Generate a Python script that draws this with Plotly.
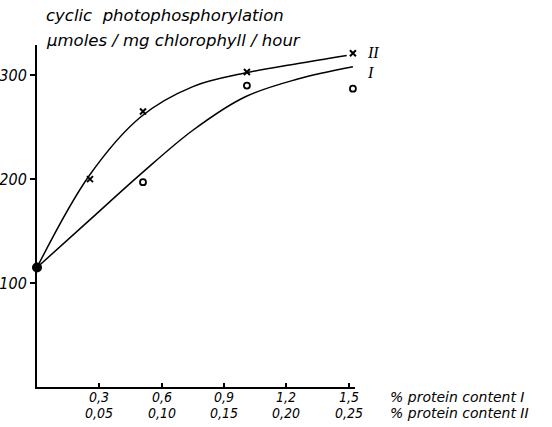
"""Cyclic photophosphorylation vs. protein content (recreated chart)."""

import plotly.graph_objects as go

# tick labels (protein I / protein II share positions)
tick_pos = [0.3, 0.6, 0.9, 1.2, 1.5]
tick_I = ["0,3", "0,6", "0,9", "1,2", "1,5"]
tick_II = ["0,05", "0,10", "0,15", "0,20", "0,25"]
y_ticks = [100, 200, 300]

# measured points
start_x = [0]
start_y = [115]
pts_II_x = [0.255, 0.51, 1.01, 1.52]
pts_II_y = [200, 265, 303, 321]
pts_I_x = [0.51, 1.01, 1.52]
pts_I_y = [197, 290, 287]

# fitted curves as drawn
curve_I_x = [0, 0.25, 0.5, 0.75, 1.0, 1.25, 1.52]
curve_I_y = [115, 160, 205, 247, 279, 296, 308]
curve_II_x = [0, 0.25, 0.5, 0.75, 1.0, 1.25, 1.49]
curve_II_y = [115, 203, 260, 289, 302, 311, 319]

FONT = "DejaVu Sans"
NARROW = "DejaVu Sans Condensed, Liberation Sans, sans-serif"

fig = go.Figure()
fig.add_trace(go.Scatter(x=curve_II_x, y=curve_II_y, mode="lines",
                         line=dict(color="black", width=1.5, shape="spline", smoothing=1.0)))
fig.add_trace(go.Scatter(x=curve_I_x, y=curve_I_y, mode="lines",
                         line=dict(color="black", width=1.5, shape="spline", smoothing=1.0)))
fig.add_trace(go.Scatter(x=pts_II_x, y=pts_II_y, mode="markers", cliponaxis=False,
                         marker=dict(symbol="x-thin", size=6, line=dict(color="black", width=2))))
fig.add_trace(go.Scatter(x=pts_I_x, y=pts_I_y, mode="markers", cliponaxis=False,
                         marker=dict(symbol="circle-open", size=6, color="black",
                                     line=dict(color="black", width=1.8))))
fig.add_trace(go.Scatter(x=start_x, y=start_y, mode="markers", cliponaxis=False,
                         marker=dict(symbol="circle", size=10, color="black")))

fig.update_xaxes(
    range=[0, 1.53], showline=True, linecolor="black", linewidth=2,
    showgrid=False, zeroline=False, automargin=False,
    tickvals=tick_pos, showticklabels=False,
    ticks="inside", ticklen=4, tickwidth=2, tickcolor="black",
)
fig.update_yaxes(
    range=[0, 329], showline=True, linecolor="black", linewidth=2,
    showgrid=False, zeroline=False, automargin=False,
    tickvals=y_ticks, ticktext=[f"<i>{v}</i>" for v in y_ticks],
    ticks="outside", ticklen=5, tickwidth=1.5, tickcolor="black",
    tickfont=dict(family=NARROW, size=16, color="black"),
)

# two rows of x tick labels (protein I above, protein II below)
for xv, a, b in zip(tick_pos, tick_I, tick_II):
    for txt, yp in ((a, -0.029), (b, -0.076)):
        fig.add_annotation(xref="x", yref="paper", x=xv, y=yp,
                           xanchor="center", yanchor="middle",
                           text=f"<i>{txt}</i>", showarrow=False,
                           font=dict(family=NARROW, size=14, color="black"))


def note(text, x, y, size=14, family=FONT):
    fig.add_annotation(xref="paper", yref="paper", x=x, y=y,
                       xanchor="left", yanchor="middle", align="left",
                       text=text, showarrow=False,
                       font=dict(family=family, size=size, color="black"))


note("<i>% protein content I</i>", 1.104, -0.029)
note("<i>% protein content II</i>", 1.104, -0.076)
note("<i>cyclic  photophosphorylation</i>", 0.022, 1.085, size=16.5)
note("<i>μmoles / mg chlorophyll / hour</i>", 0.022, 1.012, size=16.5)
note("<i>II</i>", 1.031, 0.977, size=16, family="Liberation Serif")
note("<i>I</i>", 1.031, 0.921, size=16, family="Liberation Serif")

fig.update_layout(
    width=552, height=427, showlegend=False,
    plot_bgcolor="white", paper_bgcolor="white",
    margin=dict(l=37, r=197, t=45, b=40),
)

# drop the browser's default 8px body margin so the figure fills the window
fig.write_html("out.html", config={"displayModeBar": False},
               post_script="document.body.style.margin = '0px';")
